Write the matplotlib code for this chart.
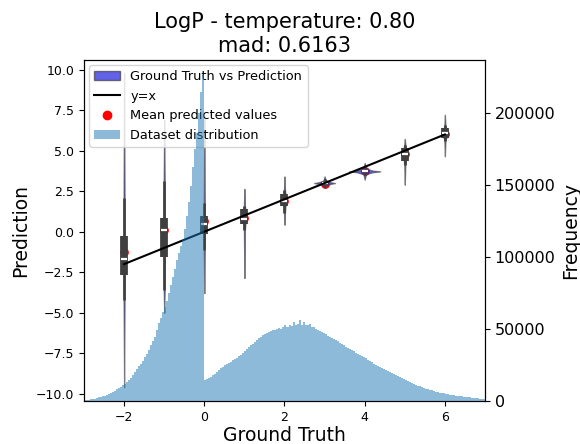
import numpy as np
import matplotlib
matplotlib.use("Agg")
import matplotlib.pyplot as plt
from matplotlib.patches import Patch
from matplotlib.lines import Line2D

# Ground truth values and summary of the predictions for each one
gt = [-2, -1, 0, 1, 2, 3, 4, 5, 6]
pred_mean = [-1.28, 0.08, 0.66, 0.84, 1.90, 2.97, 3.72, 4.80, 6.04]
pred_median = [-1.70, 0.12, 0.47, 0.80, 1.91, 3.00, 3.72, 4.81, 6.09]
pred_q1 = [-2.65, -1.54, -0.12, 0.50, 1.57, 2.93, 3.68, 4.34, 5.78]
pred_q3 = [-0.29, 0.85, 0.99, 1.38, 2.33, 3.07, 3.77, 5.17, 6.40]
whisk_lo = [-4.20, -3.60, -1.11, 0.12, 1.17, 2.80, 3.50, 4.14, 5.57]
whisk_hi = [2.08, 3.10, 1.77, 1.56, 2.60, 3.25, 3.95, 5.37, 6.60]

# violin outlines (y positions and half widths)
violin_y = [
    [-9.6, -4.2, -2.6, -1.5, -0.3, 2.1, 9.8],
    [-5.0, -3.6, -1.5, 0.1, 0.9, 3.1, 6.9],
    [-3.8, -1.1, -0.1, 0.5, 1.0, 1.8, 7.0],
    [-2.86, 0.1, 0.5, 0.8, 1.4, 1.6, 2.64],
    [0.43, 1.2, 1.6, 1.9, 2.3, 2.6, 3.41],
    [2.70, 2.85, 2.95, 3.00, 3.05, 3.15, 3.41],
    [3.21, 3.55, 3.67, 3.72, 3.77, 3.90, 4.24],
    [2.90, 4.10, 4.40, 4.80, 5.20, 5.40, 5.72],
    [4.65, 5.55, 5.80, 6.10, 6.40, 6.60, 7.22],
]
violin_hw = [
    [0, 0.012, 0.015, 0.02, 0.015, 0.012, 0],
    [0, 0.012, 0.015, 0.02, 0.015, 0.012, 0],
    [0, 0.012, 0.015, 0.02, 0.015, 0.012, 0],
    [0, 0.012, 0.025, 0.03, 0.025, 0.012, 0],
    [0, 0.012, 0.025, 0.035, 0.025, 0.012, 0],
    [0, 0.03, 0.15, 0.26, 0.15, 0.03, 0],
    [0, 0.03, 0.20, 0.39, 0.20, 0.03, 0],
    [0, 0.012, 0.025, 0.035, 0.025, 0.012, 0],
    [0, 0.012, 0.025, 0.035, 0.025, 0.012, 0],
]

# Dataset distribution (LogP), 0.05 wide bins from -3 to 7
hist_start = -3.0
hist_width = 0.05
hist_counts = [
    600, 750, 950, 1150, 1400, 1700, 2100, 2450, 2900, 3300,
    3800, 4300, 5000, 5600, 6400, 7200, 8100, 9000, 10000, 11000,
    12000, 13200, 14700, 16300, 18000, 19800, 21900, 24000, 26000, 28000,
    30200, 32700, 35500, 38500, 41500, 44500, 49000, 54000, 57500, 61500,
    65000, 69500, 75000, 80500, 86000, 91500, 97500, 102500, 107500, 112500,
    119500, 128000, 138000, 149000, 162000, 175000, 186000, 200000, 214000, 226000,
    14600, 15200, 16000, 16800, 17700, 18800, 20200, 21800, 23000, 23800,
    24700, 25500, 26300, 27300, 28400, 29200, 30000, 31000, 32100, 33300,
    34500, 35900, 37300, 38500, 39600, 40900, 42200, 43500, 44500, 45600,
    46600, 47300, 47800, 48400, 48900, 49300, 49800, 50300, 50200, 51000,
    52500, 51500, 53000, 52000, 54500, 52500, 53500, 56000, 53000, 54500,
    53000, 52500, 53500, 51500, 51500, 50000, 49500, 48500, 47800, 47000,
    46200, 45400, 44600, 43900, 43200, 42300, 41500, 40400, 39500, 38600,
    37700, 37000, 36300, 35400, 34500, 33600, 32700, 31900, 31000, 30300,
    29600, 28700, 27800, 26800, 25900, 25000, 24200, 23500, 22900, 22200,
    21500, 20800, 20100, 19300, 18600, 17900, 17300, 16700, 16000, 15300,
    14600, 13900, 13200, 12500, 11800, 11200, 10700, 10100, 9600, 9100,
    8600, 8200, 7800, 7400, 7000, 6600, 6200, 5900, 5600, 5300,
    5000, 4700, 4500, 4200, 4000, 3800, 3600, 3400, 3200, 3000,
    2800, 2600, 2450, 2300, 2150, 2000, 1850, 1700, 1550, 1400,
]

violin_face = (0.125, 0.125, 0.875)
line_col = "#3f3f3f"

fig = plt.figure(figsize=(5.8, 4.44), dpi=100)
ax = fig.add_axes([0.1448, 0.0968, 0.6914, 0.7682])

# mean dots sit below the boxes
ax.scatter(gt, pred_mean, s=28, color="red", zorder=1)

for i, x in enumerate(gt):
    y = np.array(violin_y[i])
    hw = np.array(violin_hw[i])
    ax.fill_betweenx(y, x - hw, x + hw, facecolor=violin_face, alpha=0.7,
                     edgecolor="#4a4a4a", linewidth=0.9, zorder=2)
    ax.plot([x, x], [whisk_lo[i], whisk_hi[i]], color=line_col, lw=1.9,
            solid_capstyle="butt", zorder=3)
    ax.plot([x, x], [pred_q1[i], pred_q3[i]], color=line_col, lw=5.6,
            solid_capstyle="butt", zorder=3)
    ax.plot([x], [pred_median[i]], marker="_", color="white", ms=4.5,
            mew=1.6, zorder=4)

ax.plot([min(gt), max(gt)], [min(gt), max(gt)], color="black", lw=1.5, zorder=5)

ax.set_xlim(-3, 7)
ax.set_ylim(-10.45, 10.6)
ax.tick_params(labelsize=9)
ax.set_xlabel("Ground Truth", fontsize=13.5, labelpad=1.5)
ax.set_ylabel("Prediction", fontsize=13.5)
ax.set_title("LogP - temperature: 0.80\nmad: 0.6163", fontsize=15)

ax2 = ax.twinx()
edges = hist_start + hist_width * np.arange(len(hist_counts) + 1)
centers = (edges[:-1] + edges[1:]) / 2
ax2.hist(centers, bins=edges, weights=hist_counts, histtype="stepfilled",
         color="C0", alpha=0.5)
ax2.set_ylim(0, 236500)
ax2.tick_params(labelsize=11.5)
ax2.set_ylabel("Frequency", fontsize=13.5)

handles = [
    Patch(facecolor=violin_face, alpha=0.7, edgecolor=line_col),
    Line2D([], [], color="black", lw=1.5),
    Line2D([], [], marker="o", ls="", color="red", ms=6),
    Patch(facecolor="C0", alpha=0.5),
]
labels = ["Ground Truth vs Prediction", "y=x", "Mean predicted values",
          "Dataset distribution"]
ax.legend(handles, labels, loc="upper left", fontsize=9.3,
          borderaxespad=0.4)

fig.savefig("out.png", dpi=100)
